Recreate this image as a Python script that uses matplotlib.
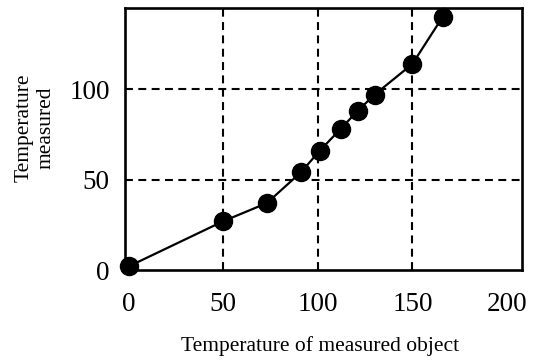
import matplotlib
matplotlib.use("Agg")
import matplotlib.pyplot as plt

# readings: temperature of the object vs. temperature measured
obj_temp = [0, 50, 73, 91, 101, 112, 121, 130, 150, 166]
meas_temp = [2, 27, 37, 54, 66, 78, 88, 97, 114, 140]

x_ticks = [0, 50, 100, 150, 200]
y_ticks = [0, 50, 100]
x_grid = [50, 100, 150]
y_grid = [50, 100]

plt.rcParams['font.family'] = ['Liberation Serif', 'DejaVu Serif']

fig = plt.figure(figsize=(5.41, 3.60), dpi=100)
ax = fig.add_axes([0.231, 0.25, 0.734, 0.728])

for g in x_grid:
    ax.axvline(g, color='black', lw=1.5, ls=(0, (3.8, 2.6)), zorder=1)
for g in y_grid:
    ax.axhline(g, color='black', lw=1.5, ls=(0, (3.8, 2.6)), zorder=1)

ax.plot(obj_temp, meas_temp, 'k-', lw=1.6, marker='o', ms=13, zorder=3,
        clip_on=False)

ax.set_xlim(-2, 208)
ax.set_ylim(0, 145)
ax.set_xticks(x_ticks)
ax.set_yticks(y_ticks)
ax.tick_params(length=0, labelsize=19.5)
ax.tick_params(axis='x', pad=16)
ax.tick_params(axis='y', pad=11)
for s in ax.spines.values():
    s.set_linewidth(1.9)

fig.text(0.592, 0.04, 'Temperature of measured object', fontsize=15.5,
         ha='center', va='center')
fig.text(0.065, 0.645, 'Temperature\nmeasured', fontsize=15.5, rotation=90,
         ha='center', va='center', linespacing=1.15)

fig.savefig('out.png', dpi=100)
